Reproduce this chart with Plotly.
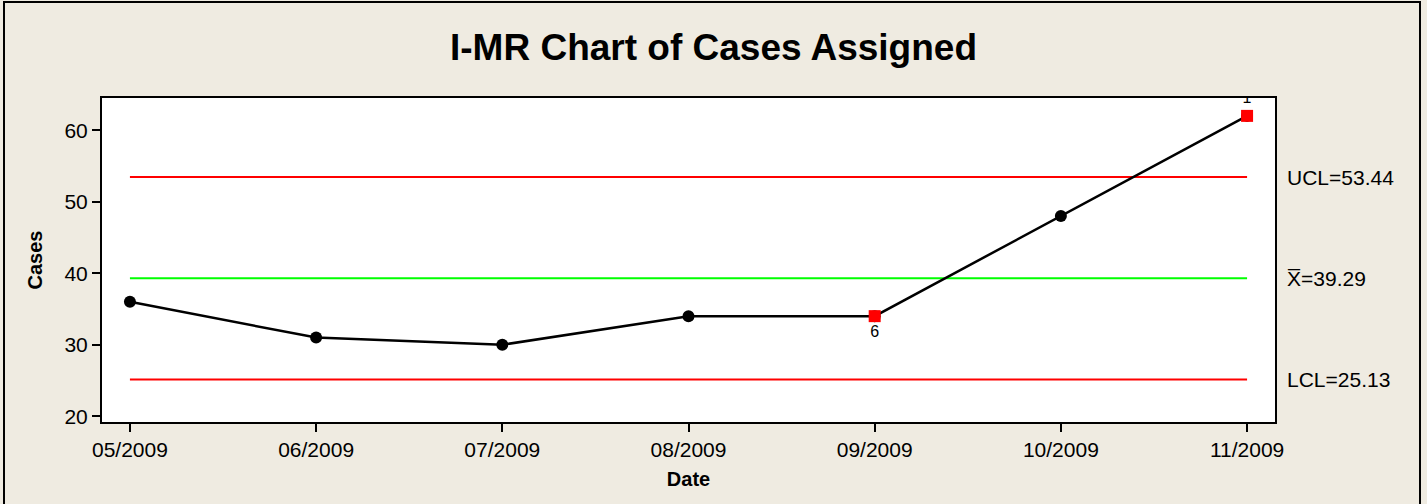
import plotly.graph_objects as go

# data
months = ["05/2009", "06/2009", "07/2009", "08/2009", "09/2009", "10/2009", "11/2009"]
cases = [36, 31, 30, 34, 34, 48, 62]
flag_idx = [4, 6]          # points flagged by tests
flag_txt = ["6", "1"]      # test numbers shown next to them
flag_pos = ["bottom center", "top center"]
ucl, xbar, lcl = 53.44, 39.29, 25.13

W, H = 1427, 504
ml, mr, mt, mb = 102, 152, 98, 82
pw, ph = W - ml - mr, H - mt - mb
bg = "#EFEBE1"
fnt = "Liberation Sans, Arial, sans-serif"

fig = go.Figure()

# control limits / centre line
for val, col in [(ucl, "#FF0000"), (xbar, "#00FF00"), (lcl, "#FF0000")]:
    fig.add_trace(go.Scatter(x=[months[0], months[-1]], y=[val, val], mode="lines",
                             line=dict(color=col, width=2), hoverinfo="skip"))

fig.add_trace(go.Scatter(x=months, y=cases, mode="lines+markers",
                         line=dict(color="black", width=2.5),
                         marker=dict(color="black", size=12, symbol="circle")))

fig.add_trace(go.Scatter(x=[months[i] for i in flag_idx], y=[cases[i] for i in flag_idx],
                         mode="markers+text", text=flag_txt, textposition=flag_pos,
                         textfont=dict(size=16, color="black", family=fnt),
                         marker=dict(color="#FF0000", size=12, symbol="square")))

# labels for the limit lines, right of the plot
for txt, val in [("UCL=53.44", ucl), ("X\u0305=39.29", xbar), ("LCL=25.13", lcl)]:
    fig.add_annotation(x=1, xref="paper", y=val, yref="y", text=txt, showarrow=False,
                       xanchor="left", xshift=10, font=dict(size=21, color="black", family=fnt))

# outer frame
fig.add_shape(type="rect", xref="paper", yref="paper",
              x0=(4 - ml) / pw, x1=(1420 - ml) / pw, y0=-(H + 4 - mt - ph) / ph, y1=(mt - 2 + ph) / ph,
              line=dict(color="black", width=2), layer="below")

fig.update_layout(
    width=W, height=H, margin=dict(l=ml, r=mr, t=mt, b=mb),
    paper_bgcolor=bg, plot_bgcolor="white", showlegend=False,
    title=dict(text="<b>I-MR Chart of Cases Assigned</b>", x=0.5, xref="container",
               y=1 - 47 / H, yanchor="middle",
               font=dict(size=37, color="black", family=fnt)),
    font=dict(family=fnt, color="black", size=21),
)
fig.update_xaxes(type="category", categoryorder="array", categoryarray=months,
                 range=[-0.15, 6.15], showgrid=False, zeroline=False,
                 showline=True, mirror=True, linecolor="black", linewidth=2,
                 ticks="outside", ticklen=8, tickwidth=2, tickcolor="black",
                 tickfont=dict(size=21),
                 title=dict(text="<b>Date</b>", font=dict(size=20), standoff=12))
fig.update_yaxes(range=[19.2, 64.5], tickvals=[20, 30, 40, 50, 60], showgrid=False, zeroline=False,
                 showline=True, mirror=True, linecolor="black", linewidth=2,
                 ticks="outside", ticklen=8, tickwidth=2, tickcolor="black",
                 tickfont=dict(size=21),
                 title=dict(text="<b>Cases</b>", font=dict(size=20), standoff=16))

fig.write_html("out.html", config={"displayModeBar": False},
               post_script="document.body.style.margin='0';")
